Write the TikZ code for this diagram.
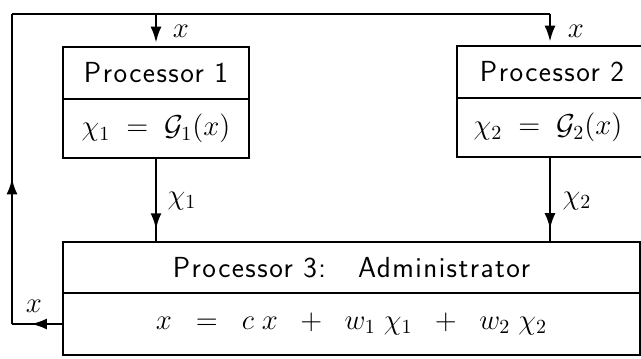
\documentclass[tikz,border=0pt]{standalone}
\usepackage{fontspec}
\setsansfont{Latin Modern Sans}[LetterSpace=5]
\usetikzlibrary{arrows.meta,decorations.markings}
\tikzset{
  box/.style={draw, line width=1.3pt, inner sep=0pt, font=\fontsize{14.5}{17}\selectfont},
  lbl/.style={inner sep=1pt, font=\fontsize{14.5}{17}\selectfont},
  conn/.style={line width=1.2pt},
  tip/.style={-{Latex[length=8pt,width=5.5pt]}},
  midarr/.style={postaction={decorate}, decoration={markings, mark=at position #1 with {\arrow{Latex[length=8pt,width=5.5pt]}}}}
}
\begin{document}
\begin{tikzpicture}[x=0.5pt,y=-0.5pt]
\useasboundingbox (0,0) rectangle (641,358);
% Processor 1
\node[box, minimum width=93pt, minimum height=26pt] (p1t) at (156,73) {\sffamily Processor 1};
\node[box, minimum width=93pt, minimum height=29.5pt] (p1b) at (156,128.5) {$\chi_1 \;=\; \mathcal{G}_1(x)$};
% Processor 2
\node[box, minimum width=95pt, minimum height=26pt] (p2t) at (552,72) {\sffamily Processor 2};
\node[box, minimum width=95pt, minimum height=29.5pt] (p2b) at (552,127.5) {\hspace*{-4pt}$\chi_2 \;=\; \mathcal{G}_2(x)$};
% Administrator
\node[box, minimum width=288.5pt, minimum height=25.5pt] (at) at (351.5,267.5) {\sffamily Processor 3:\hspace{16pt}Administrator};
\node[box, minimum width=288.5pt, minimum height=31pt] (ab) at (351.5,324) {$x \;\;=\;\; c\;x \;\;+\;\; w_1\;\chi_1 \;\;+\;\; w_2\;\chi_2$};
% coordinates
\coordinate (bl) at (12,324);
\coordinate (tl) at (12,14);
\coordinate (t1) at (156,14);
\coordinate (tr) at (550,14);
% connectors
\draw[conn, midarr=0.62] (ab.west) -- (bl);
\draw[conn, midarr=0.47] (bl) -- (tl);
\draw[conn] (tl) -- (tr);
\draw[conn, tip, shorten >=1.5pt] (t1) -- (p1t.north);
\draw[conn, tip, shorten >=1.5pt] (tr) -- (tr |- p2t.north);
\draw[conn, midarr=0.86] (p1b.south) -- (p1b.south |- at.north);
\draw[conn, midarr=0.86] (tr |- p2b.south) -- (tr |- at.north);
% labels
\node[lbl] (lx1) at (181,31) {$x$};
\node[lbl] (lx2) at (576,31) {$x$};
\node[lbl] (lc1) at (182,201) {$\chi_1$};
\node[lbl] (lc2) at (577,201) {$\chi_2$};
\node[lbl] (lx3) at (34,306) {$x$};
\end{tikzpicture}
\end{document}
